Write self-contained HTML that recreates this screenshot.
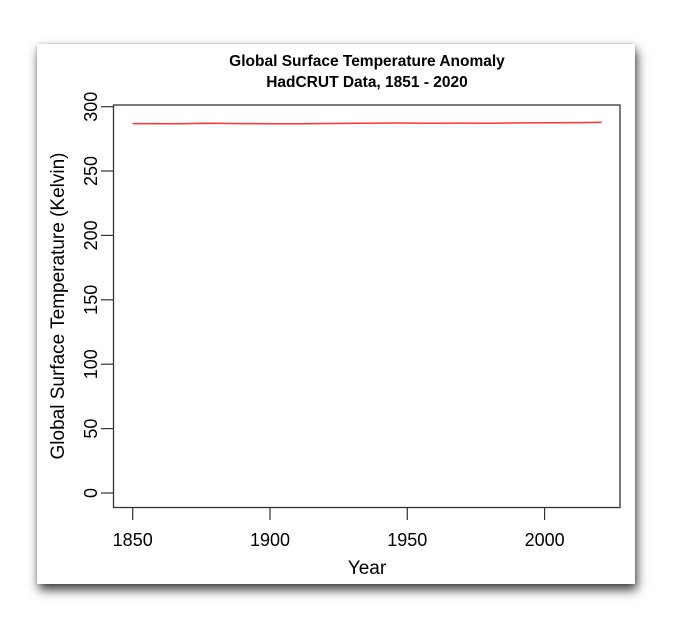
<!DOCTYPE html>
<html><head><style>
body{margin:0;background:#fff;width:673px;height:628px;overflow:hidden}
svg{position:absolute;left:0;top:0}
.card{position:absolute;left:37px;top:44px;width:598px;height:540px;background:#fff;box-shadow:2px 6px 10px rgba(0,0,0,0.75),0 0 3px rgba(0,0,0,0.2)}
text{font-family:"Liberation Sans",sans-serif;fill:#000}
</style></head><body>
<div class="card"></div>
<svg width="673" height="628">
<text x="367" y="66" font-size="15.5" font-weight="bold" text-anchor="middle">Global Surface Temperature Anomaly</text>
<text x="367" y="87" font-size="15.5" font-weight="bold" text-anchor="middle">HadCRUT Data, 1851 - 2020</text>
<rect x="113.5" y="105" width="506.5" height="402.5" fill="none" stroke="#333" stroke-width="1.3"/>
<g stroke="#333" stroke-width="1.2">
<line x1="101" x2="113.5" y1="493" y2="493"/><line x1="101" x2="113.5" y1="428.6" y2="428.6"/>
<line x1="101" x2="113.5" y1="364.2" y2="364.2"/><line x1="101" x2="113.5" y1="299.8" y2="299.8"/>
<line x1="101" x2="113.5" y1="235.4" y2="235.4"/><line x1="101" x2="113.5" y1="171" y2="171"/>
<line x1="101" x2="113.5" y1="106.7" y2="106.7"/>
<line y1="507.5" y2="520" x1="132.7" x2="132.7"/><line y1="507.5" y2="520" x1="270" x2="270"/>
<line y1="507.5" y2="520" x1="407.3" x2="407.3"/><line y1="507.5" y2="520" x1="544.6" x2="544.6"/>
</g>
<g font-size="18" text-anchor="middle">
<text transform="translate(97,493) rotate(-90)">0</text>
<text transform="translate(97,428.6) rotate(-90)">50</text>
<text transform="translate(97,364.2) rotate(-90)">100</text>
<text transform="translate(97,299.8) rotate(-90)">150</text>
<text transform="translate(97,235.4) rotate(-90)">200</text>
<text transform="translate(97,171) rotate(-90)">250</text>
<text transform="translate(97,106.7) rotate(-90)">300</text>
<text x="132.7" y="546">1850</text><text x="270" y="546">1900</text>
<text x="407.3" y="546">1950</text><text x="544.6" y="546">2000</text>
</g>
<g font-size="19" text-anchor="middle">
<text x="367" y="574">Year</text>
<text transform="translate(64,306) rotate(-90)">Global Surface Temperature (Kelvin)</text>
</g>
<polyline fill="none" stroke="#f33" stroke-width="1.5" points="132.7,123.6 180,123.8 210,123.3 240,123.6 270,123.7 300,123.8 330,123.5 360,123.3 400,123 430,123.2 460,123.1 490,123.2 520,122.9 550,122.8 580,122.6 601.7,122.3"/>
</svg>
</body></html>
